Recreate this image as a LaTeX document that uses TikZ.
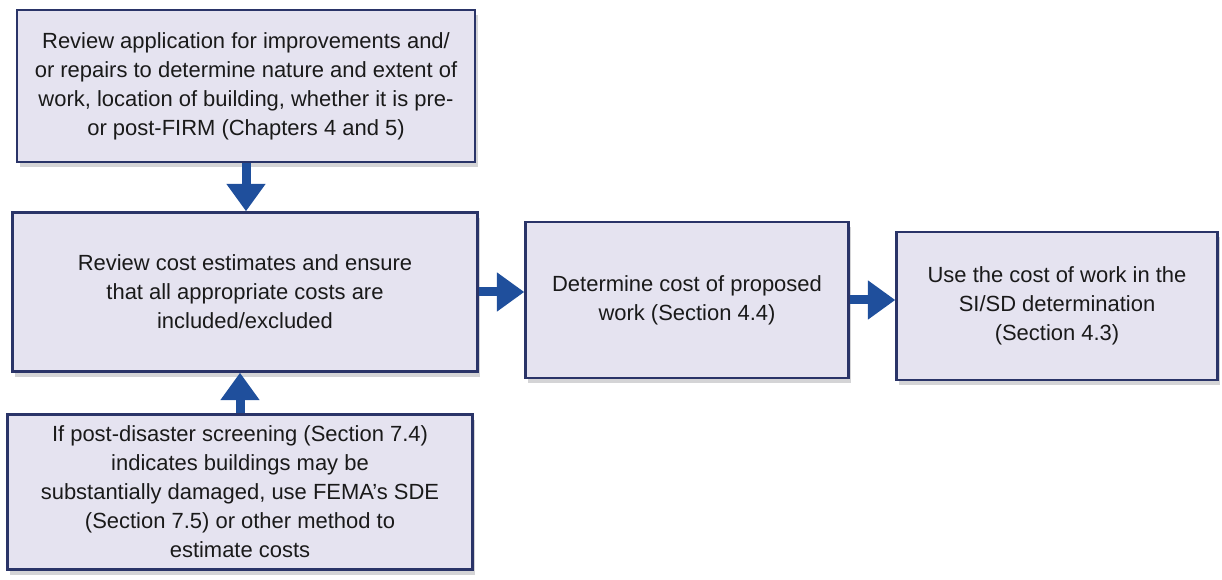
\documentclass[tikz,border=0pt]{standalone}
\usepackage{fontspec}
\setmainfont{Liberation Sans}
\usepackage{tikz}
\usepackage{xcolor}
\usetikzlibrary{arrows.meta, positioning, calc, shadows}
\definecolor{boxfill}{HTML}{E5E3F0}
\definecolor{boxline}{HTML}{2A3468}
\definecolor{flowblue}{HTML}{1F4F9C}
\definecolor{shadegray}{HTML}{C9C9CC}
\definecolor{inktext}{HTML}{1A1A1A}

\begin{document}
\begin{tikzpicture}[x=0.02cm, y=-0.02cm,
            task/.style={rectangle, draw=boxline, fill=boxfill, line width=1.4pt, align=center, inner sep=2pt,
                text=inktext, font=\fontsize{12.5}{16.5}\selectfont,
                drop shadow={shadow xshift=1.5pt, shadow yshift=-3pt, fill=shadegray, opacity=0.8}},
            flow/.style={draw=flowblue, line width=0.18cm, -{Triangle[length=0.55cm, width=0.75cm]}}]
            \useasboundingbox (0,0) rectangle (1222,580);
            \node[task, minimum width=9.16cm, minimum height=3.04cm] (review) at (246,86)
                {Review application for improvements and/\\or repairs to determine nature and extent of\\work, location of building, whether it is pre-\\or post-FIRM (Chapters 4 and 5)};
            \node[task, minimum width=9.3cm, minimum height=3.18cm] (costs) at (245,292)
                {Review cost estimates and ensure\\that all appropriate costs are\\included/excluded};
            \node[task, minimum width=9.3cm, minimum height=3.1cm] (screen) at (240,492)
                {If post-disaster screening (Section 7.4)\\indicates buildings may be\\substantially damaged, use FEMA's SDE\\(Section 7.5) or other method to\\estimate costs};
            \node[task, minimum width=6.46cm, minimum height=3.12cm] (determine) at (687,300)
                {Determine cost of proposed\\work (Section 4.4)};
            \node[task, minimum width=6.42cm, minimum height=2.96cm] (use) at (1057,306)
                {Use the cost of work in the\\SI/SD determination\\(Section 4.3)};
            \draw[flow] (review.south) -- (review.south |- costs.north);
            \draw[flow] (screen.north) -- (screen.north |- costs.south);
            \draw[flow] (costs.east) -- (costs.east -| determine.west);
            \draw[flow] (determine.east) -- (determine.east -| use.west);
        \end{tikzpicture}
\end{document}
